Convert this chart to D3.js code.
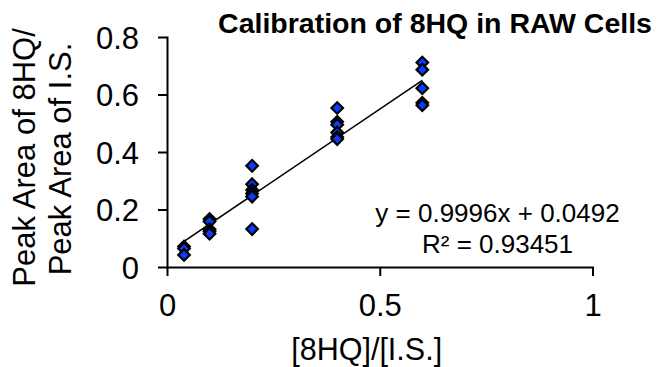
<!DOCTYPE html>
<html>
<head>
<meta charset="utf-8">
<script src="https://cdn.jsdelivr.net/npm/d3@7"></script>
<style>
  html, body { margin: 0; padding: 0; background: #fff; }
  svg { display: block; font-family: "Liberation Sans", Arial, sans-serif; }
</style>
</head>
<body>
<svg id="chart" width="660" height="367"></svg>
<script>
// ---- data ----
const xLevels = [0.04, 0.1, 0.2, 0.4, 0.6];
const ratios004 = [0.071, 0.064, 0.042];
const ratios010 = [0.167, 0.158, 0.131, 0.124, 0.116];
const ratios020 = [0.352, 0.288, 0.268, 0.256, 0.245, 0.132];
const ratios040 = [0.553, 0.505, 0.495, 0.468, 0.452, 0.445];
const ratios060 = [0.711, 0.686, 0.622, 0.571, 0.563];
const slope = 0.9996;
const intercept = 0.0492;
const xTicks = [0, 0.5, 1];
const yTicks = [0, 0.2, 0.4, 0.6, 0.8];
const titleText = "Calibration of 8HQ in RAW Cells";
const xLabel = "[8HQ]/[I.S.]";
const yLabelLines = ["Peak Area of 8HQ/", "Peak Area of I.S."];
const eqLines = ["y = 0.9996x + 0.0492", "R\u00B2 = 0.93451"];

const groups = [ratios004, ratios010, ratios020, ratios040, ratios060];
const points = [];
groups.forEach((arr, i) => arr.forEach(v => points.push({x: xLevels[i], y: v})));

const svg = d3.select("#chart");
const x = d3.scaleLinear().domain([0, 1]).range([167, 592.5]);
const y = d3.scaleLinear().domain([0, 0.8]).range([267, 37]);

const fmt = d => String(d);

// axes
const gx = svg.append("g").attr("transform", `translate(0,${y(0)})`)
  .call(d3.axisBottom(x).tickValues(xTicks).tickFormat(fmt).tickSize(9).tickSizeOuter(0).tickPadding(18));
const gy = svg.append("g").attr("transform", `translate(${x(0)},0)`)
  .call(d3.axisLeft(y).tickValues(yTicks).tickFormat(fmt).tickSize(9).tickSizeOuter(0).tickPadding(19));

[gx, gy].forEach(g => {
  g.selectAll(".domain").attr("stroke", "#000").attr("stroke-width", 2).attr("stroke-linecap", "square");
  g.selectAll(".tick line").attr("stroke", "#000").attr("stroke-width", 2);
  g.selectAll(".tick text").attr("fill", "#000").style("font-size", "31px")
    .style("font-family", "'Liberation Sans', Arial, sans-serif");
});
gy.selectAll(".tick text").attr("dy", "0.36em");

// trendline
const xMin = d3.min(xLevels), xMax = d3.max(xLevels);
svg.append("line")
  .attr("x1", x(xMin)).attr("y1", y(slope * xMin + intercept))
  .attr("x2", x(xMax)).attr("y2", y(slope * xMax + intercept))
  .attr("stroke", "#000").attr("stroke-width", 1.6);

// points (diamonds)
const sym = d3.symbol().type(d3.symbolDiamond2).size(85);
svg.append("g").selectAll("path").data(points).join("path")
  .attr("d", sym)
  .attr("transform", d => `translate(${x(d.x)},${y(d.y)})`)
  .attr("fill", "#0a3cff").attr("stroke", "#000").attr("stroke-width", 2.2)
  .attr("stroke-linejoin", "miter");

// title
svg.append("text").attr("x", 435).attr("y", 33).attr("text-anchor", "middle")
  .style("font-size", "28.5px").style("font-weight", "bold").text(titleText);

// x label
svg.append("text").attr("x", 366.7).attr("y", 360).attr("text-anchor", "middle")
  .style("font-size", "30.5px").text(xLabel);

// y label
const ylX = [35, 71], ylY = [157.5, 159];
yLabelLines.forEach((t, i) => {
  svg.append("text")
    .attr("transform", `translate(${ylX[i]},${ylY[i]}) rotate(-90)`)
    .attr("text-anchor", "middle")
    .style("font-size", "31px").text(t);
});

// equation
const eqY = [221.7, 253.3];
eqLines.forEach((t, i) => {
  svg.append("text").attr("x", 497.5).attr("y", eqY[i]).attr("text-anchor", "middle")
    .style("font-size", "26px").text(t);
});
</script>
</body>
</html>
